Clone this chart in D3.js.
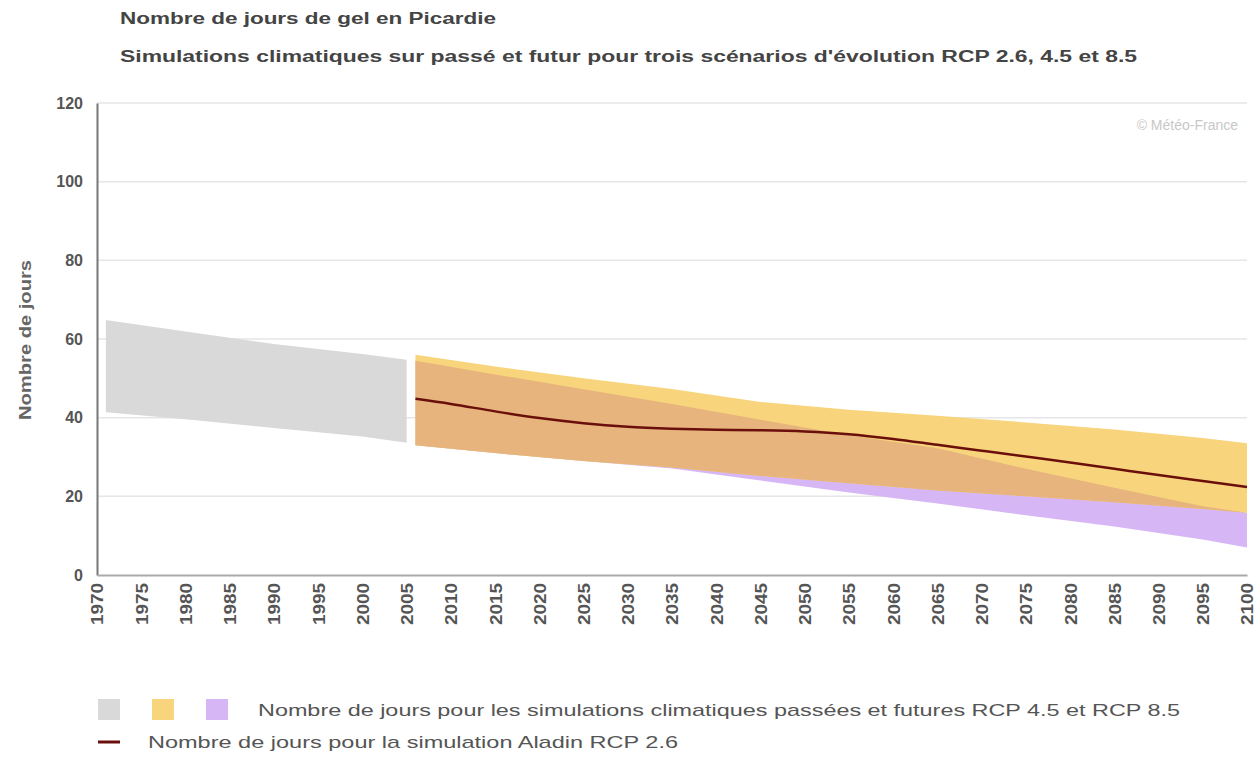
<!DOCTYPE html>
<html>
<head>
<meta charset="utf-8">
<script src="https://cdn.jsdelivr.net/npm/d3@7"></script>
<style>
  body { margin: 0; background: #fff; }
  text { font-family: "Liberation Sans", Arial, sans-serif; }
</style>
</head>
<body>
<svg id="chart" width="1258" height="760"></svg>
<script>
// gray band: past simulations
const pastYears = [1971, 1980, 1990, 2000, 2005];
const pastHigh = [64.8, 61.9, 58.7, 56.2, 54.7];
const pastLow = [41.4, 39.6, 37.4, 35.2, 33.6];

// future bands + Aladin line
const futYears = [2006, 2015, 2025, 2035, 2045, 2055, 2065, 2075, 2085, 2095, 2100];
const rcp45High = [56, 53, 50, 47.3, 44, 42, 40.5, 38.8, 37, 34.8, 33.5];
const rcp45Low = [33, 31, 29, 27.3, 25.2, 23.3, 21.5, 20, 18.5, 16.8, 15.8];
const rcp85High = [54.5, 51, 47.2, 43.5, 39.5, 35.5, 32.2, 27, 22.2, 17.5, 15.8];
const rcp85Low = [33, 31, 29, 27.1, 24, 21, 18.2, 15.2, 12.3, 9, 7];

const aladinYears = [2006, 2010, 2015, 2020, 2025, 2030, 2035, 2040, 2045, 2050, 2055, 2060, 2065, 2070, 2075, 2080, 2085, 2090, 2095, 2100];
const aladin26 = [44.8, 43.5, 41.6, 39.9, 38.6, 37.7, 37.2, 36.9, 36.8, 36.5, 35.8, 34.6, 33.1, 31.6, 30.1, 28.6, 27.0, 25.4, 23.9, 22.4];

const yTicks = [0, 20, 40, 60, 80, 100, 120];
const xTicks = d3.range(1970, 2101, 5);

const title = "Nombre de jours de gel en Picardie";
const subtitle = "Simulations climatiques sur passé et futur pour trois scénarios d'évolution RCP 2.6, 4.5 et 8.5";
const legendBands = "Nombre de jours pour les simulations climatiques passées et futures RCP 4.5 et RCP 8.5";
const legendLine = "Nombre de jours pour la simulation Aladin RCP 2.6";

const svg = d3.select("#chart");

const x = d3.scaleLinear().domain([1970, 2100]).range([97, 1247]);
const y = d3.scaleLinear().domain([0, 120]).range([575, 103]);

// titles (the source image is upscaled, so text is stretched wide)
svg.append("text").attr("x", 120).attr("y", 24)
   .attr("font-size", 16).attr("font-weight", "bold").attr("fill", "#444")
   .attr("textLength", 376).attr("lengthAdjust", "spacingAndGlyphs")
   .text(title);
svg.append("text").attr("x", 120).attr("y", 62)
   .attr("font-size", 16).attr("font-weight", "bold").attr("fill", "#444")
   .attr("textLength", 1017).attr("lengthAdjust", "spacingAndGlyphs")
   .text(subtitle);

// grid
svg.append("g").selectAll("line")
   .data(yTicks.filter(d => d > 0))
   .join("line")
   .attr("x1", x(1970)).attr("x2", x(2100))
   .attr("y1", d => y(d)).attr("y2", d => y(d))
   .attr("stroke", "#e6e6e6").attr("stroke-width", 1.5);

// watermark
svg.append("text").attr("x", 1238).attr("y", 130)
   .attr("text-anchor", "end").attr("font-size", 14).attr("fill", "#c8c8c8")
   .text("© Météo-France");

const band = (years, hi, lo) => d3.area()
    .x((d, i) => x(years[i]))
    .y0((d, i) => y(lo[i]))
    .y1((d, i) => y(hi[i]))(years);

svg.append("path").attr("d", band(pastYears, pastHigh, pastLow)).attr("fill", "#d9d9d9");
svg.append("path").attr("d", band(futYears, rcp85High, rcp85Low)).attr("fill", "#d7b6f6");
svg.append("path").attr("d", band(futYears, rcp45High, rcp45Low)).attr("fill", "#f8d47c");

// overlap of the two scenario bands
const overHi = futYears.map((d, i) => Math.min(rcp45High[i], rcp85High[i]));
const overLo = futYears.map((d, i) => Math.min(Math.max(rcp45Low[i], rcp85Low[i]), overHi[i]));
svg.append("path").attr("d", band(futYears, overHi, overLo)).attr("fill", "#e6b47c");

// Aladin line
svg.append("path")
   .attr("d", d3.line().curve(d3.curveMonotoneX)
      .x((d, i) => x(aladinYears[i])).y(d => y(d))(aladin26))
   .attr("fill", "none").attr("stroke", "#6a0f0c").attr("stroke-width", 2.5);

// axes
const yAxis = svg.append("g").attr("transform", `translate(${x(1970)},0)`)
   .call(d3.axisLeft(y).tickValues(yTicks).tickSize(0).tickPadding(14));
yAxis.select(".domain").attr("stroke", "#777").attr("stroke-width", 2);
yAxis.selectAll("text").attr("font-size", 16).attr("font-weight", "bold")
   .attr("fill", "#555").attr("font-family", "Liberation Sans, Arial, sans-serif");

const xAxis = svg.append("g").attr("transform", `translate(0,${y(0)})`)
   .call(d3.axisBottom(x).tickValues(xTicks).tickFormat(d3.format("d")).tickSize(0).tickPadding(0));
xAxis.select(".domain").attr("stroke", "#aaa").attr("stroke-width", 2);
xAxis.selectAll("text")
   .attr("font-size", 17).attr("font-weight", "bold").attr("fill", "#555")
   .attr("font-family", "Liberation Sans, Arial, sans-serif")
   .attr("textLength", 42).attr("lengthAdjust", "spacingAndGlyphs")
   .attr("text-anchor", "end").attr("dy", "0.35em")
   .attr("transform", "translate(0,8) rotate(-90)");

// y title
svg.append("text")
   .attr("transform", "translate(31,340) rotate(-90)")
   .attr("text-anchor", "middle").attr("font-size", 16).attr("font-weight", "bold")
   .attr("fill", "#666")
   .attr("textLength", 160).attr("lengthAdjust", "spacingAndGlyphs")
   .text("Nombre de jours");

// legend
const legColors = ["#d9d9d9", "#f8d47c", "#d7b6f6"];
svg.append("g").selectAll("rect").data(legColors).join("rect")
   .attr("x", (d, i) => 98 + i * 54).attr("y", 699).attr("width", 22).attr("height", 21)
   .attr("fill", d => d);
svg.append("text").attr("x", 258).attr("y", 716)
   .attr("font-size", 17).attr("fill", "#555")
   .attr("textLength", 922).attr("lengthAdjust", "spacingAndGlyphs")
   .text(legendBands);
svg.append("line").attr("x1", 98).attr("x2", 120).attr("y1", 742).attr("y2", 742)
   .attr("stroke", "#6a0f0c").attr("stroke-width", 3);
svg.append("text").attr("x", 148).attr("y", 748)
   .attr("font-size", 17).attr("fill", "#555")
   .attr("textLength", 530).attr("lengthAdjust", "spacingAndGlyphs")
   .text(legendLine);
</script>
</body>
</html>
